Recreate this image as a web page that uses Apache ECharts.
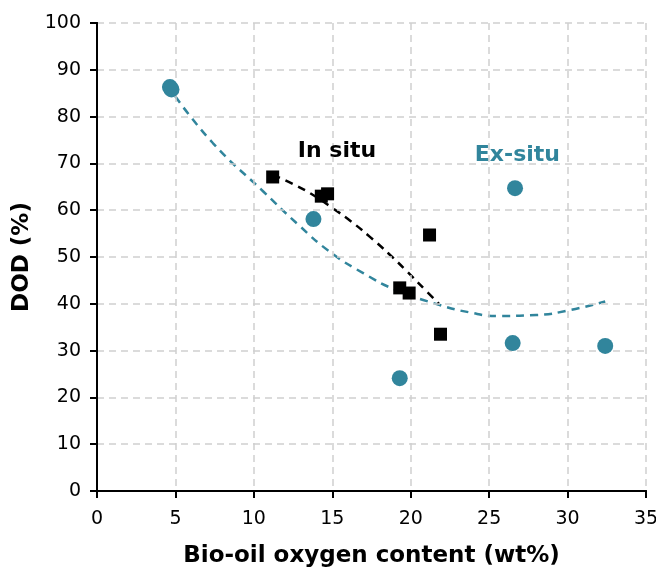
<!DOCTYPE html>
<html><head><meta charset="utf-8">
<script src="https://cdn.jsdelivr.net/npm/echarts@6/dist/echarts.min.js"></script>
<style>html,body{margin:0;padding:0;background:#fff}#c{width:656px;height:567px}</style>
</head><body><div id="c"></div>
<script>
// Ex-situ data (teal circles)
var exSituX = [4.65, 4.75, 13.8, 19.3, 26.65, 26.5, 32.4];
var exSituY = [86.3, 85.8, 58.1, 24.1, 64.7, 31.6, 31.0];
// In situ data (black squares)
var inSituX = [11.2, 14.3, 14.7, 19.3, 19.9, 21.2, 21.9];
var inSituY = [67.1, 63.0, 63.5, 43.4, 42.3, 54.7, 33.5];
// Trend lines
var exTrendX = [5.0, 7.4, 10.6, 12.8, 14.85, 17.0, 19.1, 21.9, 23.7, 25.5, 28.0, 30.2, 32.4];
var exTrendY = [84.3, 74.3, 64.0, 57.0, 51.1, 46.5, 42.9, 39.7, 38.2, 37.4, 37.6, 38.7, 40.5];
var inTrendX = [11.2, 12.5, 13.8, 15.0, 16.2, 17.4, 18.6, 19.8, 21.0, 21.8];
var inTrendY = [67.6, 65.6, 63.2, 60.5, 57.6, 54.3, 50.7, 46.8, 42.7, 40.0];
// Axis ticks
var xMin = 0, xMax = 35, xStep = 5;
var yMin = 0, yMax = 100, yStep = 10;
// Labels
var labels = [{name: 'In situ', x: 15.3, y: 72.6, color: '#000000'},
              {name: 'Ex-situ', x: 26.8, y: 71.8, color: '#31859c'}];

function zip(a, b) { return a.map(function (v, i) { return [v, b[i]]; }); }
var teal = '#31859c';
var FONT = 'DejaVu Sans';
var chart = echarts.init(document.getElementById('c'), null, {renderer: 'canvas'});
var gridLine = {show: true, lineStyle: {color: '#d0d0d0', type: [7, 5], width: 1.5}};
var frameAxis = {axisLine: {show: true, lineStyle: {color: '#000', width: 2}}, axisTick: {show: false},
                 axisLabel: {show: false}, splitLine: {show: false}};
chart.setOption({
  animation: false,
  backgroundColor: '#fff',
  grid: {left: 97, top: 23, right: 10, bottom: 76, outerBoundsMode: 'none', containLabel: false},
  xAxis: [{
    type: 'value', min: xMin, max: xMax, interval: xStep,
    name: 'Bio-oil oxygen content (wt%)', nameLocation: 'middle', nameGap: 54,
    nameTextStyle: {fontFamily: FONT, fontWeight: 'bold', fontSize: 23, color: '#000'},
    axisLine: {lineStyle: {color: '#000', width: 2}},
    axisTick: {show: true, length: 7, lineStyle: {color: '#000', width: 2}},
    axisLabel: {fontFamily: FONT, fontSize: 19, color: '#000', margin: 19},
    splitLine: gridLine, z: 3
  }, Object.assign({type: 'value', position: 'top', min: xMin, max: xMax, interval: xStep, z: 3}, frameAxis)],
  yAxis: [{
    type: 'value', min: yMin, max: yMax, interval: yStep,
    name: 'DOD (%)', nameLocation: 'middle', nameGap: 60, nameRotate: 90,
    nameTextStyle: {fontFamily: FONT, fontWeight: 'bold', fontSize: 23, color: '#000'},
    axisLine: {show: true, lineStyle: {color: '#000', width: 2}},
    axisTick: {show: true, length: 7, lineStyle: {color: '#000', width: 2}},
    axisLabel: {fontFamily: FONT, fontSize: 19, color: '#000', margin: 16},
    splitLine: gridLine, z: 3
  }, Object.assign({type: 'value', position: 'right', min: yMin, max: yMax, interval: yStep, z: 3}, frameAxis)],
  series: [
    {type: 'line', data: zip(exTrendX, exTrendY), smooth: true, showSymbol: false, z: 2,
     lineStyle: {color: teal, width: 2.5, type: [8, 6]}},
    {type: 'line', data: zip(inTrendX, inTrendY), smooth: true, showSymbol: false, z: 2,
     lineStyle: {color: '#000', width: 2.5, type: [8, 6]}},
    {type: 'scatter', data: zip(exSituX, exSituY), symbol: 'circle', symbolSize: 16, z: 3,
     itemStyle: {color: teal, opacity: 1}},
    {type: 'scatter', data: zip(inSituX, inSituY), symbol: 'rect', symbolSize: 13, z: 4,
     itemStyle: {color: '#000', opacity: 1}},
    {type: 'scatter', symbolSize: 0, z: 5, silent: true, itemStyle: {opacity: 1},
     data: labels.map(function (l) {
       return {value: [l.x, l.y], name: l.name,
         label: {show: true, position: 'inside', formatter: l.name, color: l.color, opacity: 1,
                 fontFamily: FONT, fontWeight: 'bold', fontSize: 22}};
     })}
  ]
});
</script></body></html>
